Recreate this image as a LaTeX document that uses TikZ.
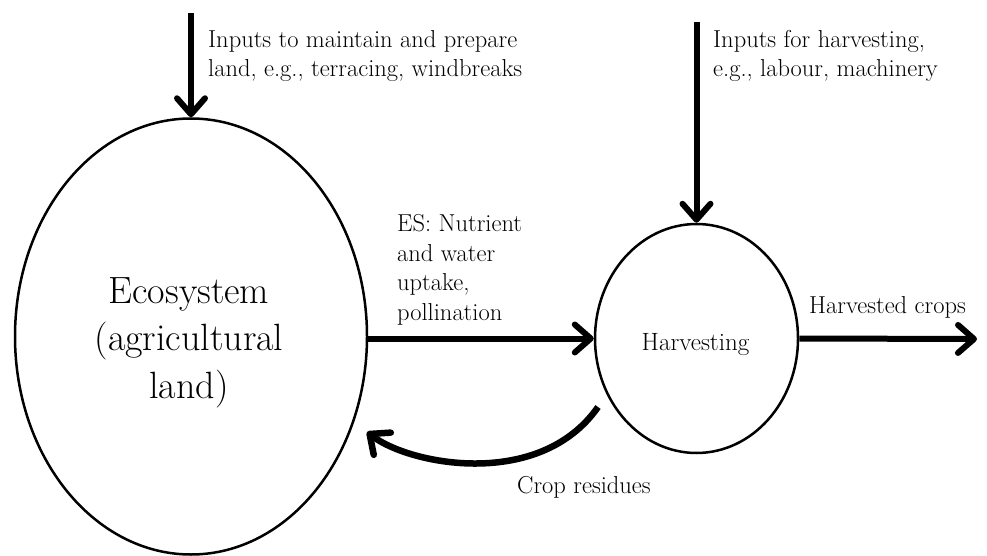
\documentclass[tikz,border=0pt]{standalone}
\usepackage{fontspec}
\usetikzlibrary{arrows.meta,shapes.geometric}
\tikzset{
  flow/.style={line width=6pt,-{Straight Barb[length=16pt,width=28pt,round]}},
  curveflow/.style={line width=6.5pt,-{Straight Barb[length=16pt,width=28pt,round]}},
  smalltxt/.style={font=\fontsize{24.5}{29.5}\selectfont,inner sep=0pt,align=left,anchor=base west},
  bigtxt/.style={font=\fontsize{38}{47.5}\selectfont,inner sep=0pt,align=center,anchor=base},
  bubble/.style={draw,line width=2.5pt,inner sep=0pt},
}
\begin{document}
\begin{tikzpicture}[x=1pt,y=-1pt]
\useasboundingbox (0,0) rectangle (987,556);
% main shapes
\node[bubble,ellipse,minimum width=352pt,minimum height=436pt] (eco) at (191,336.5) {};
\node[bubble,ellipse,minimum width=203pt,minimum height=229pt] (harv) at (696.5,338.5) {};
% labels inside (base = baseline of the last line)
\node[bigtxt] (ecotxt) at (189,398) {Ecosystem\\(agricultural\\land)};
\node[inner sep=0pt,anchor=base,font=\fontsize{25}{29.5}\selectfont] (harvtxt) at (695.5,350) {Harvesting};
% free ends
\coordinate (in1) at (191,13);
\coordinate (in2) at (696.5,22);
\coordinate (out) at (977,339);
\coordinate (resstart) at (598,407);
\coordinate (resend) at (367,432);
% arrows
\draw[flow] (in1) -- (eco.north);
\draw[flow] (in2) -- (harv.north);
\draw[flow] (harv.west -| eco.east) -- (harv.west);
\draw[flow] (harv.east) -- (out);
\draw[curveflow] (resstart) .. controls (540,490) and (410,465) .. (resend);
% texts
\node[smalltxt] (t1) at (208,77) {Inputs to maintain and prepare\\land, e.g., terracing, windbreaks};
\node[smalltxt] (t2) at (713,77) {Inputs for harvesting,\\e.g., labour, machinery};
\node[smalltxt] (t3) at (397,320) {ES: Nutrient\\and water\\uptake,\\pollination};
\node[smalltxt] (t4) at (809,313) {Harvested crops};
\node[smalltxt] (t5) at (517,493) {Crop residues};
\end{tikzpicture}
\end{document}
